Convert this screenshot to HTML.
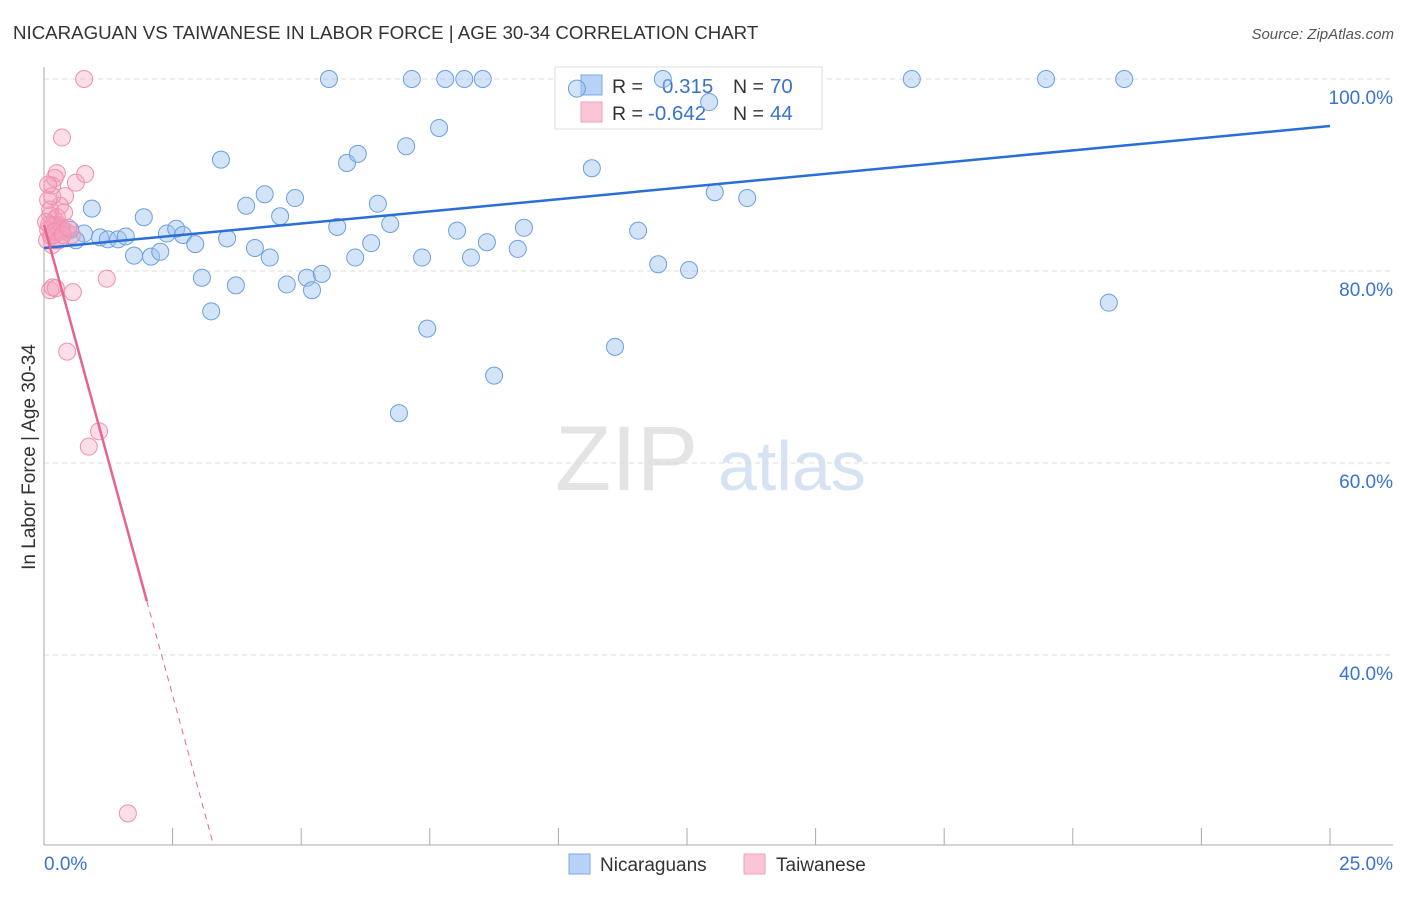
<!DOCTYPE html>
<html><head><meta charset="utf-8"><style>
body{margin:0;background:#fff;font-family:"Liberation Sans",sans-serif}
svg text{font-family:"Liberation Sans",sans-serif}
</style></head><body>
<svg id="c" width="1406" height="892" xmlns="http://www.w3.org/2000/svg">
<text x="13" y="39" font-size="18.7" fill="#333">NICARAGUAN VS TAIWANESE IN LABOR FORCE | AGE 30-34 CORRELATION CHART</text>
<text x="1394" y="39" font-size="15" fill="#555" font-style="italic" text-anchor="end">Source: ZipAtlas.com</text>
<text x="35" y="457" font-size="19" fill="#333" text-anchor="middle" transform="rotate(-90 35 457)">In Labor Force | Age 30-34</text>
<text x="555" y="490" font-size="92" fill="#e4e4e4" font-family="Liberation Serif">ZIP</text>
<text x="718" y="490" font-size="70" fill="#d6e3f4">atlas</text>
<g id="grid"></g>
<g>
<rect x="555" y="67" width="267" height="62" fill="#fff" stroke="#ddd"/>
<rect x="581" y="75" width="21" height="20" fill="#b8d2f5" stroke="#7aa8e8"/>
<rect x="581" y="102" width="21" height="20" fill="#fac5d5" stroke="#f0a0bb"/>
<text x="612" y="93" font-size="19.5" fill="#333">R = </text><text x="662" y="93" font-size="20.5" fill="#3a72d0">0.315</text>
<text x="733" y="93" font-size="19.5" fill="#333">N = </text><text x="770" y="93" font-size="20.5" fill="#3a72d0">70</text>
<text x="612" y="120" font-size="19.5" fill="#333">R = </text><text x="648" y="120" font-size="20.5" fill="#3a72d0">-0.642</text>
<text x="733" y="120" font-size="19.5" fill="#333">N = </text><text x="770" y="120" font-size="20.5" fill="#3a72d0">44</text>
</g>
<g id="pts"></g><g id="lines"></g>
<g>
<rect x="569" y="854" width="21" height="20" fill="#b8d2f5" stroke="#7aa8e8"/>
<text x="600" y="871" font-size="19" fill="#333">Nicaraguans</text>
<rect x="744" y="854" width="21" height="20" fill="#fac5d5" stroke="#f0a0bb"/>
<text x="776" y="871" font-size="19" fill="#333">Taiwanese</text>
</g>
</svg>
<script>
const blueX=[0.93,0.78,0.62,1.09,1.24,1.44,1.59,1.75,1.94,2.08,2.26,2.39,2.57,2.70,2.94,3.07,3.25,3.44,3.56,3.73,3.93,4.10,4.29,4.39,4.59,4.72,4.88,5.11,5.21,5.40,5.54,5.70,5.89,6.05,6.10,6.36,6.49,6.73,6.90,7.04,7.15,7.35,7.45,7.68,7.80,8.03,8.17,8.30,8.53,8.61,8.75,9.21,9.33,10.36,10.65,11.10,11.55,11.94,12.03,12.54,12.93,13.04,13.67,16.87,19.48,20.70,21.00,0.31,0.51,0.23];
const blueY=[86.5,83.9,83.2,83.5,83.3,83.3,83.6,81.6,85.6,81.5,82.0,83.9,84.4,83.75,82.8,79.3,75.8,91.6,83.4,78.5,86.8,82.4,88.0,81.4,85.7,78.6,87.6,79.3,78.0,79.7,100,84.6,91.25,81.4,92.2,82.9,87.0,84.9,65.2,93.0,100,81.4,74.0,94.9,100,84.2,100,81.4,100,83.0,69.1,82.3,84.5,99.0,90.7,72.1,84.2,80.7,100,80.1,97.6,88.2,87.6,100,100,76.7,100,84.1,84.3,84.8];
const pinkX=[0.78,0.35,0.62,0.80,0.25,0.16,0.41,0.31,0.12,0.21,0.08,0.16,0.23,0.31,0.43,0.54,0.12,0.17,0.23,0.56,1.22,0.45,1.07,0.87,1.63,0.08,0.12,0.27,0.35,0.19,0.06,0.17,0.25,0.39,0.10,0.14,0.04,0.21,0.29,0.37,0.47,0.16,0.21,0.08];
const pinkY=[100,93.9,89.2,90.1,90.2,88.9,87.8,86.8,85.8,85.3,84.3,82.7,83.2,84.5,84.1,83.75,78.0,78.3,78.2,77.8,79.2,71.6,63.3,61.7,23.5,87.4,86.4,84.8,84.3,83.75,83.2,84.7,85.6,86.1,84.8,83.6,85.1,84.1,83.2,83.75,84.5,87.8,89.7,89.0];
const yTicks=[100,80,60,40];
const yTickLabels=["100.0%","80.0%","60.0%","40.0%"];
const blueTrend=[82.4,95.1];
const pinkTrend=[84.8,-19.6];
const NS="http://www.w3.org/2000/svg";
const sx=v=>44+v/25*1286, sy=v=>79+(100-v)*9.6;
function mk(t,a,p){const e=document.createElementNS(NS,t);for(const k in a)e.setAttribute(k,a[k]);p.appendChild(e);return e;}
const g=document.getElementById('grid'),P=document.getElementById('pts'),L=document.getElementById('lines');
yTicks.forEach((t,i)=>{
 const l=mk('line',{x1:44,x2:1393,y1:sy(t),y2:sy(t),stroke:'#ddd','stroke-dasharray':'5,4'},g);
 
 
 const tx=mk('text',{x:1393,y:sy(t)+25,'font-size':19,fill:'#3a72d0','text-anchor':'end'},g);tx.textContent=yTickLabels[i];
 
 
});
const ax=mk('line',{x1:44,x2:44,y1:67,y2:845,stroke:'#aaa'},g);


const bx=mk('line',{x1:44,x2:1393,y1:845,y2:845,stroke:'#aaa'},g);


for(let i=0;i<=10;i++){const x=44+i*128.6;const t=mk('line',{x1:x,x2:x,y1:828,y2:845,stroke:'#aaa'},g);
 
 }
const x0=mk('text',{x:44,y:870,'font-size':19,fill:'#3a72d0'},g);x0.textContent='0.0%';


const x1=mk('text',{x:1393,y:870,'font-size':19,fill:'#3a72d0','text-anchor':'end'},g);x1.textContent='25.0%';


blueX.forEach((x,i)=>{const c=mk('circle',{cx:sx(x),cy:sy(blueY[i]),r:8.5,fill:'rgba(160,195,240,0.45)',stroke:'#6a9fe0','stroke-width':1},P);
 
 });
pinkX.forEach((x,i)=>{const c=mk('circle',{cx:sx(x),cy:sy(pinkY[i]),r:8.5,fill:'rgba(245,160,190,0.35)',stroke:'#ee8fb0','stroke-width':1},P);
 
 });
const bl=mk('line',{x1:sx(0),y1:sy(blueTrend[0]),x2:sx(25),y2:sy(blueTrend[1]),stroke:'#2a6fd6','stroke-width':2.5},L);


const pe=2.0, pEnd=(20.2-pinkTrend[0])/pinkTrend[1];
const pl=mk('line',{x1:sx(0),y1:sy(pinkTrend[0]),x2:sx(pe),y2:sy(pinkTrend[0]+pinkTrend[1]*pe),stroke:'#e8648f','stroke-width':2.5},L);


const pd=mk('line',{x1:sx(pe),y1:sy(pinkTrend[0]+pinkTrend[1]*pe),x2:sx(pEnd),y2:sy(20.2),stroke:'#e8648f','stroke-width':1,'stroke-dasharray':'6,5'},L);


</script>
</body></html>
